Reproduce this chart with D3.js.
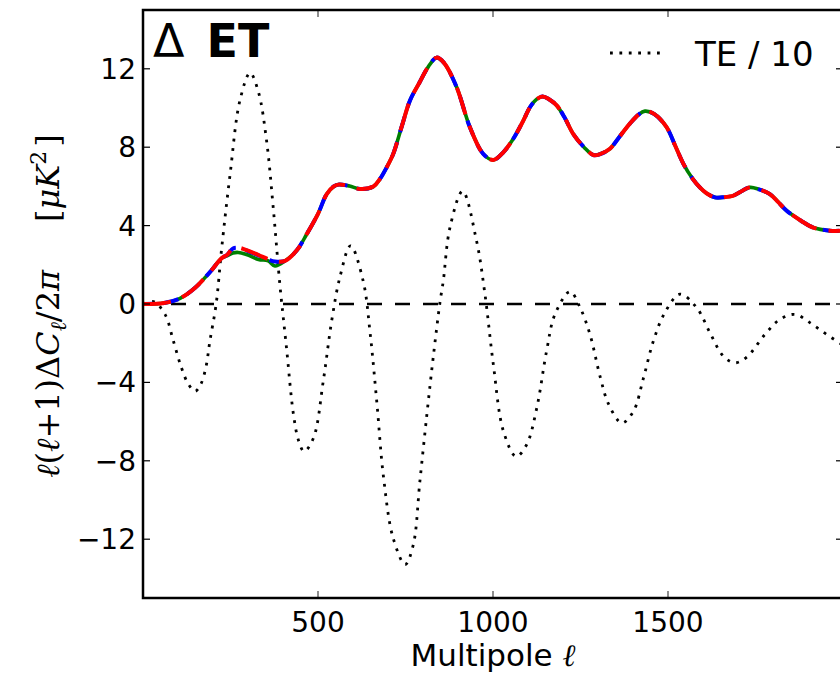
<!DOCTYPE html>
<html>
<head>
<meta charset="utf-8">
<script src="https://cdn.jsdelivr.net/npm/d3@7"></script>
<style>
  body { margin: 0; background: #fff; }
  svg { display: block; font-family: "DejaVu Sans", sans-serif; }
  .tick-label { font-size: 28px; fill: #000; }
</style>
</head>
<body>
<div id="graph1"></div>
<script>
// multipole values where the Delta ET curves were read
var ell = [0, 60, 106, 149, 190, 225, 240, 257, 272, 300, 330, 358, 377, 406, 440, 468, 500, 525, 545, 558,
    590, 620, 658, 677, 700, 715, 740, 763, 790, 815, 839, 860, 896, 934, 972, 1001, 1030, 1058, 1085, 1106,
    1125, 1142, 1160, 1182, 1205, 1229, 1260, 1287, 1306, 1334, 1360, 1391, 1415, 1434, 1460, 1496, 1520, 1544, 1570, 1591,
    1610, 1634, 1660, 1687, 1705, 1734, 1760, 1791, 1815, 1839, 1880, 1915, 1963, 2000];

var etRed = [0, 0.05, 0.29, 0.83, 1.6, 2.34, 2.5, 2.85, 2.88, 2.72, 2.5, 2.29, 2.18, 2.2, 2.75, 3.57, 4.6, 5.61, 6.0, 6.09,
    6.02, 5.87, 5.99, 6.38, 7.1, 7.66, 9.1, 10.39, 11.3, 12.1, 12.57, 12.3, 11.07, 9.02, 7.66, 7.35, 7.75, 8.43, 9.3, 10.05,
    10.45, 10.59, 10.45, 10.13, 9.5, 8.68, 8.0, 7.6, 7.65, 7.92, 8.5, 9.2, 9.65, 9.84, 9.7, 9.02, 8.1, 7.15, 6.4, 5.95,
    5.65, 5.44, 5.45, 5.53, 5.7, 5.95, 5.85, 5.61, 5.2, 4.76, 4.25, 3.9, 3.74, 3.74];

var etBlue = [0, 0.05, 0.29, 0.83, 1.6, 2.34, 2.5, 2.83, 2.86, 2.7, 2.48, 2.27, 2.17, 2.2, 2.75, 3.57, 4.6, 5.61, 6.0, 6.09,
    6.02, 5.87, 5.99, 6.38, 7.1, 7.66, 9.1, 10.39, 11.3, 12.1, 12.57, 12.3, 11.07, 9.02, 7.66, 7.35, 7.75, 8.43, 9.3, 10.05,
    10.45, 10.59, 10.45, 10.13, 9.5, 8.68, 8.0, 7.6, 7.65, 7.92, 8.5, 9.2, 9.65, 9.84, 9.7, 9.02, 8.1, 7.15, 6.4, 5.95,
    5.65, 5.44, 5.45, 5.53, 5.7, 5.95, 5.85, 5.61, 5.2, 4.76, 4.25, 3.9, 3.74, 3.74];

var etGreen = [0, 0.05, 0.29, 0.83, 1.6, 2.34, 2.45, 2.6, 2.63, 2.5, 2.27, 2.2, 1.94, 2.2, 2.75, 3.57, 4.6, 5.61, 6.0, 6.09,
    6.02, 5.87, 5.99, 6.38, 7.1, 7.66, 9.1, 10.39, 11.3, 12.1, 12.57, 12.3, 11.07, 9.02, 7.66, 7.35, 7.75, 8.43, 9.3, 10.05,
    10.45, 10.59, 10.45, 10.13, 9.5, 8.68, 8.0, 7.6, 7.65, 7.92, 8.5, 9.2, 9.65, 9.84, 9.7, 9.02, 8.1, 7.15, 6.4, 5.95,
    5.65, 5.44, 5.45, 5.53, 5.7, 5.95, 5.85, 5.61, 5.2, 4.76, 4.25, 3.9, 3.74, 3.74];

// TE / 10 (dotted)
var teEll = [0, 30, 63, 87, 110, 130, 149, 165, 180, 191, 209, 225, 249, 277, 306, 330, 353, 372, 391, 410,
    430, 445, 460, 487, 515, 539, 563, 593, 629, 649, 668, 687, 715, 749, 772, 791, 811, 829, 849, 858,
    877, 913, 953, 977, 1001, 1030, 1066, 1096, 1125, 1153, 1177, 1220, 1249, 1277, 1306, 1330, 1368, 1401, 1430, 1458,
    1491, 1534, 1582, 1620, 1658, 1691, 1725, 1777, 1820, 1863, 1906, 1953, 2000];
var teVal = [0, 0.12, -0.53, -1.9, -3.26, -4.1, -4.45, -4.1, -3.2, -1.9, 0, 2.88, 6.64, 10.39, 11.79, 10.8, 8.34, 4.93, 1.0, -2.24,
    -5.65, -7.0, -7.52, -6.84, -3.94, -0.87, 1.4, 2.97, 1.18, -1.5, -5.0, -8.8, -11.96, -13.29, -12.3, -9.06, -5.65, -2.75, 0.15, 1.18,
    3.9, 5.75, 3.22, 0.5, -3.09, -6.5, -7.78, -7.18, -5.31, -2.41, -0.53, 0.63, -0.19, -1.55, -3.7, -5.1, -6.07, -5.48, -3.77, -1.9,
    -0.44, 0.5, -0.19, -1.47, -2.66, -3.0, -2.71, -1.55, -0.78, -0.53, -0.96, -1.55, -2.1];

var xTicks = [500, 1000, 1500];
var yTicks = [-12, -8, -4, 0, 4, 8, 12];

var margin = {top: 10, right: -3, bottom: 76, left: 143},
    width = 700,
    height = 588;

var x = d3.scaleLinear().domain([0, 2000]).range([0, width]);
var y = d3.scaleLinear().domain([-15, 15]).range([height, 0]);

var svgRoot = d3.select("#graph1").append("svg")
    .attr("width", 840)
    .attr("height", 674);

var svg = svgRoot.append("g")
    .attr("transform", "translate(" + margin.left + "," + margin.top + ")");

svg.append("clipPath").attr("id", "clip")
    .append("rect").attr("width", width).attr("height", height);

var plot = svg.append("g").attr("clip-path", "url(#clip)");

function lineOf(xs) {
    return d3.line()
        .curve(d3.curveCatmullRom.alpha(0.5))
        .x(function(d, i) { return x(xs[i]); })
        .y(function(d) { return y(d); });
}

// TE / 10 dotted
plot.append("path")
    .datum(teVal)
    .attr("fill", "none")
    .attr("stroke", "#000")
    .attr("stroke-width", 2.8)
    .attr("stroke-dasharray", "2.8,6.6")
    .attr("d", lineOf(teEll));

// zero line
plot.append("line")
    .attr("x1", 0).attr("x2", width)
    .attr("y1", y(0)).attr("y2", y(0))
    .attr("stroke", "#000")
    .attr("stroke-width", 2.6)
    .attr("stroke-dasharray", "15,13");

// the three Delta ET curves: green solid, blue dashed, red dashed on top
plot.append("path")
    .datum(etGreen)
    .attr("fill", "none")
    .attr("stroke", "#008000")
    .attr("stroke-width", 3.6)
    .attr("d", lineOf(ell));

plot.append("path")
    .datum(etBlue)
    .attr("fill", "none")
    .attr("stroke", "#0000ff")
    .attr("stroke-width", 4)
    .attr("stroke-dasharray", "16,10")
    .attr("stroke-dashoffset", 6)
    .attr("d", lineOf(ell));

plot.append("path")
    .datum(etRed)
    .attr("fill", "none")
    .attr("stroke", "#ff0000")
    .attr("stroke-width", 4)
    .attr("stroke-dasharray", "28,12")
    .attr("d", lineOf(ell));

// ticks (inward, on all four sides)
var tl = 7;
xTicks.forEach(function(t) {
    svg.append("line").attr("x1", x(t)).attr("x2", x(t)).attr("y1", height).attr("y2", height - tl)
        .attr("stroke", "#444").attr("stroke-width", 1.2);
    svg.append("line").attr("x1", x(t)).attr("x2", x(t)).attr("y1", 0).attr("y2", tl)
        .attr("stroke", "#444").attr("stroke-width", 1.2);
    svg.append("text").attr("class", "tick-label")
        .attr("x", x(t)).attr("y", height + 34)
        .attr("text-anchor", "middle")
        .text(t);
});
yTicks.forEach(function(t) {
    svg.append("line").attr("x1", 0).attr("x2", tl).attr("y1", y(t)).attr("y2", y(t))
        .attr("stroke", "#000").attr("stroke-width", 1.2);
    svg.append("line").attr("x1", width).attr("x2", width - tl).attr("y1", y(t)).attr("y2", y(t))
        .attr("stroke", "#000").attr("stroke-width", 1.2);
    svg.append("text").attr("class", "tick-label")
        .attr("x", -7).attr("y", y(t) + 10)
        .attr("text-anchor", "end")
        .text(t < 0 ? "\u2212" + Math.abs(t) : t);
});

// frame
svg.append("rect")
    .attr("width", width).attr("height", height)
    .attr("fill", "none")
    .attr("stroke", "#000")
    .attr("stroke-width", 2.5);

// title inside the axes
var title = svg.append("text")
    .attr("x", 10).attr("y", 47)
    .style("font-size", "46px");
title.append("tspan").text("\u0394");
title.append("tspan").attr("dx", 22).style("font-weight", "bold").text("ET");

// legend
svg.append("line")
    .attr("x1", 610 - margin.left).attr("x2", 660 - margin.left)
    .attr("y1", 43).attr("y2", 43)
    .attr("stroke", "#000").attr("stroke-width", 2.8)
    .attr("stroke-dasharray", "2.8,6.6");
svg.append("text")
    .attr("x", 695 - margin.left).attr("y", 56)
    .style("font-size", "34px")
    .text("TE / 10");

// x axis label
var xl = svgRoot.append("text")
    .attr("x", 493).attr("y", 666)
    .attr("text-anchor", "middle")
    .style("font-size", "31px");
xl.append("tspan").text("Multipole ");
xl.append("tspan").style("font-family", "'DejaVu Serif', serif").style("font-style", "italic").text("\u2113");

// y axis label (math style)
var yl = svgRoot.append("text")
    .attr("transform", "translate(59,306) rotate(-90)")
    .attr("text-anchor", "middle")
    .style("font-family", "'DejaVu Serif', serif")
    .style("font-size", "32px");
yl.append("tspan").style("font-style", "italic").text("\u2113");
yl.append("tspan").text("(");
yl.append("tspan").style("font-style", "italic").text("\u2113");
yl.append("tspan").text("+1)\u0394");
yl.append("tspan").style("font-style", "italic").text("C");
yl.append("tspan").style("font-style", "italic").style("font-size", "22px").attr("dy", 7).text("\u2113");
yl.append("tspan").attr("dy", -7).text("/2");
yl.append("tspan").style("font-style", "italic").text("\u03c0");
yl.append("tspan").attr("dx", 48).text("[");
yl.append("tspan").style("font-style", "italic").text("\u03bcK");
yl.append("tspan").style("font-size", "22px").attr("dy", -13).text("2");
yl.append("tspan").attr("dx", 4).attr("dy", 13).text("]");
</script>
</body>
</html>
